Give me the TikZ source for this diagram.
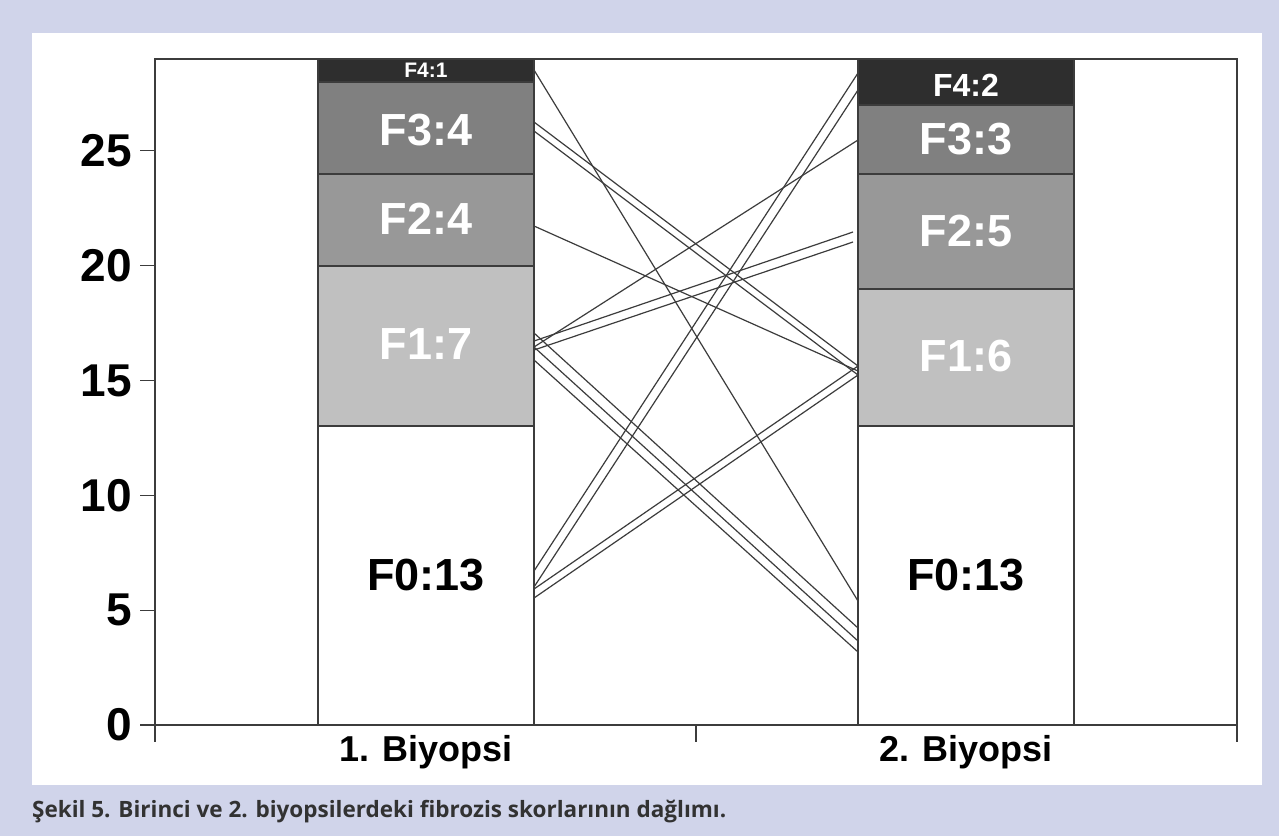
\documentclass[tikz,border=0pt]{standalone}
\usepackage{fontspec}
\setmainfont{Liberation Sans}
\newfontfamily\capfont{Open Sans}
\definecolor{bgcol}{RGB}{208,212,234}
\definecolor{fA}{RGB}{46,46,46}
\definecolor{fB}{RGB}{128,128,128}
\definecolor{fC}{RGB}{152,152,152}
\definecolor{fD}{RGB}{192,192,192}
\definecolor{frame}{RGB}{60,60,60}
\definecolor{capcol}{RGB}{50,50,50}
\begin{document}
\begin{tikzpicture}[x=1pt,y=-1pt,
  seg/.style={draw=frame,line width=1.2pt},
  frameline/.style={draw=frame,line width=1.2pt},
  link/.style={draw=frame,line width=1.2pt},
  ylab/.style={anchor=east,inner sep=0pt,font=\fontsize{46}{50}\selectfont\bfseries},
  blab/.style={inner sep=0pt,font=\fontsize{45}{50}\selectfont\bfseries},
  wlab/.style={blab,text=white},
  xlab/.style={inner sep=0pt,font=\fontsize{36}{40}\selectfont\bfseries}]
\useasboundingbox (0,0) rectangle (1279,836);
\fill[bgcol] (0,0) rectangle (1279,836);
\fill[white] (32,33) rectangle (1262,785);
% plot frame
\draw[frameline] (155,59) rectangle (1237,725);
% bar 1
\path[seg,fill=white] (318,426) rectangle (534,725);
\path[seg,fill=fD] (318,266) rectangle (534,426);
\path[seg,fill=fC] (318,174) rectangle (534,266);
\path[seg,fill=fB] (318,82) rectangle (534,174);
\path[seg,fill=fA] (318,59) rectangle (534,82);
% bar 2
\path[seg,fill=white] (858,426) rectangle (1074,725);
\path[seg,fill=fD] (858,289) rectangle (1074,426);
\path[seg,fill=fC] (858,174) rectangle (1074,289);
\path[seg,fill=fB] (858,105) rectangle (1074,174);
\path[seg,fill=fA] (858,59) rectangle (1074,105);
% segment labels
\node[blab] (a0) at (426,575) {F0:13};
\node[wlab] (a1) at (426,344) {F1:7};
\node[wlab] (a2) at (426,219) {F2:4};
\node[wlab] (a3) at (426,130) {F3:4};
\node[wlab,font=\fontsize{21}{24}\selectfont\bfseries] (a4) at (426,70) {F4:1};
\node[blab] (b0) at (966,575) {F0:13};
\node[wlab] (b1) at (966,356) {F1:6};
\node[wlab] (b2) at (966,231) {F2:5};
\node[wlab] (b3) at (966,139) {F3:3};
\node[wlab,font=\fontsize{32}{36}\selectfont\bfseries] (b4) at (966,85) {F4:2};
% y axis ticks and labels
\foreach \v in {0,5,...,25}{
  \draw[frameline] (140,{725-22.966*\v}) -- (155,{725-22.966*\v});
  \node[ylab] (y\v) at (132,{725-22.966*\v}) {\v};
}
% x axis ticks
\foreach \xx in {155,696,1237}{\draw[frameline] (\xx,725) -- (\xx,742);}
\node[xlab] (x1) at (426,752) {1. Biyopsi};
\node[xlab] (x2) at (966,752) {2. Biyopsi};
% link end points
\coordinate (p1) at (534,70);   \coordinate (q1) at (858,601);
\coordinate (p2) at (534,122);  \coordinate (q2) at (858,366);
\coordinate (p3) at (534,131);  \coordinate (q3) at (858,375);
\coordinate (p4) at (534,226);  \coordinate (q4) at (858,371);
\coordinate (p5) at (534,341);  \coordinate (q5) at (853,232);
\coordinate (p6) at (534,350);  \coordinate (q6) at (853,242);
\coordinate (p7) at (534,347);  \coordinate (q7) at (858,140);
\coordinate (p8) at (534,333);  \coordinate (q8) at (858,628);
\coordinate (p9) at (534,347);  \coordinate (q9) at (858,641);
\coordinate (p10) at (534,360); \coordinate (q10) at (858,652);
\coordinate (p11) at (534,571); \coordinate (q11) at (858,73);
\coordinate (p12) at (534,587); \coordinate (q12) at (858,90);
\coordinate (p13) at (534,589); \coordinate (q13) at (858,366);
\coordinate (p14) at (534,598); \coordinate (q14) at (858,375);
\foreach \i in {1,...,14}{\draw[link] (p\i) -- (q\i);}
% caption
\node[anchor=west,inner sep=0pt,text=capcol,font=\capfont\fontsize{22.5}{26}\selectfont\bfseries] (cap) at (32,812) {Şekil 5. Birinci ve 2. biyopsilerdeki fibrozis skorlarının dağlımı.};
\end{tikzpicture}
\end{document}
